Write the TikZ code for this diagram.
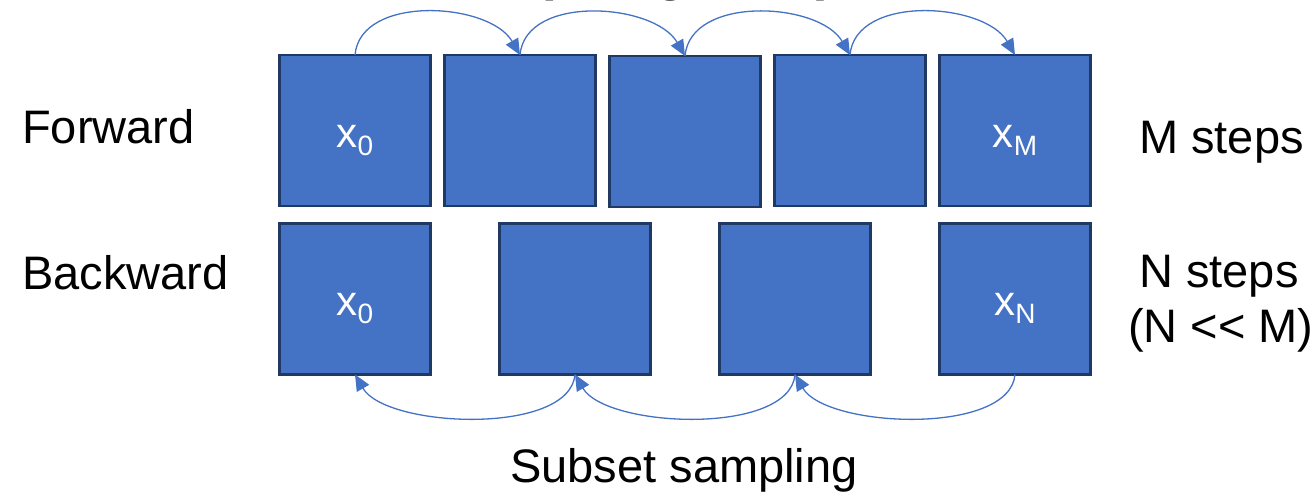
\documentclass[tikz,border=0pt]{standalone}
\usepackage{fontspec}
\setmainfont{Liberation Sans}
\usetikzlibrary{arrows.meta}
\definecolor{boxblue}{HTML}{4472C4}
\definecolor{boxedge}{HTML}{1F3864}
\definecolor{arcblue}{HTML}{4472C4}

\begin{document}
\begin{tikzpicture}[x=1pt,y=1pt,
  frame/.style={draw=boxedge, line width=2.6pt, fill=boxblue,
    minimum width=151pt, minimum height=151pt, inner sep=0pt, outer sep=0pt},
  boxlab/.style={text=white, anchor=base, inner sep=0pt,
    font=\fontsize{42}{42}\selectfont},
  side/.style={anchor=base west, inner sep=0pt,
    font=\fontsize{47}{47}\selectfont},
  arc/.style={draw=arcblue, line width=1.3pt,
    -{Triangle[length=16pt,width=14pt]}},
]
\useasboundingbox (0,0) rectangle (1316,-492);

% heading, mostly above the page edge
\node[anchor=base west, inner sep=0pt, font=\fontsize{55}{55}\selectfont\bfseries]
  (head) at (535,10) {(Long time)};

% forward chain
\node[frame] (t1) at (355,-130.5) {};
\node[frame] (t2) at (520,-130.5) {};
\node[frame] (t3) at (685,-131.5) {};
\node[frame] (t4) at (850,-130.5) {};
\node[frame] (t5) at (1015,-130.5) {};

% backward chain
\node[frame] (d1) at (355,-299) {};
\node[frame] (d2) at (575,-299) {};
\node[frame] (d3) at (795,-299) {};
\node[frame] (d4) at (1015,-299) {};

% state labels
\node[boxlab] (lt1) at (355,-147) {x\raisebox{-8pt}{\fontsize{28}{28}\selectfont 0}};
\node[boxlab] (lt5) at (1015,-147) {x\raisebox{-8pt}{\fontsize{28}{28}\selectfont M}};
\node[boxlab] (ld1) at (355,-315.5) {x\raisebox{-8pt}{\fontsize{28}{28}\selectfont 0}};
\node[boxlab] (ld4) at (1015,-315.5) {x\raisebox{-8pt}{\fontsize{28}{28}\selectfont N}};

% row captions
\node[side] (fw) at (22,-143) {Forward};
\node[side] (bw) at (22,-289) {Backward};
\node[side] (ms) at (1139,-153) {M steps};
\node[side] (ns) at (1139,-287) {N steps};
\node[side] (nm) at (1128,-342) {(N <{}< M)};
\node[side] (ss) at (510,-482) {Subset sampling};

% forward transitions
\draw[arc] (t1.north) to[out=85,in=120,looseness=0.95] (t2.north);
\draw[arc] (t2.north) to[out=85,in=120,looseness=0.95] (t3.north);
\draw[arc] (t3.north) to[out=85,in=120,looseness=0.95] (t4.north);
\draw[arc] (t4.north) to[out=85,in=120,looseness=0.95] (t5.north);

% backward jumps
\draw[arc] (d2.south) to[out=265,in=300,looseness=0.72] (d1.south);
\draw[arc] (d3.south) to[out=265,in=300,looseness=0.72] (d2.south);
\draw[arc] (d4.south) to[out=265,in=300,looseness=0.72] (d3.south);
\end{tikzpicture}
\end{document}
